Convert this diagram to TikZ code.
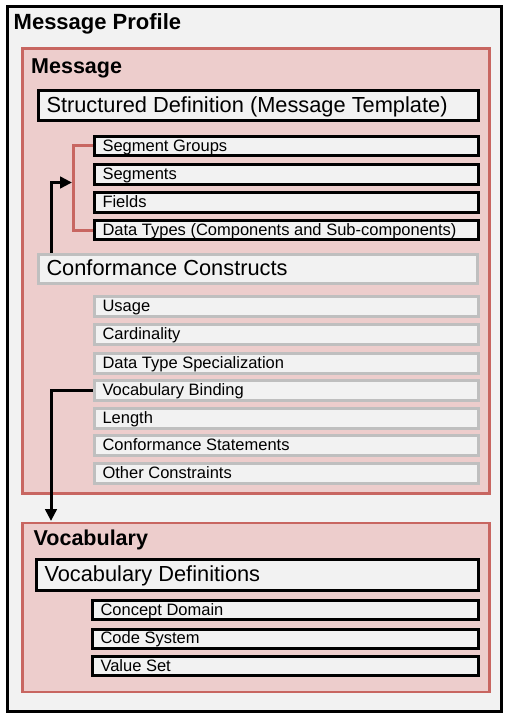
\documentclass[tikz,border=0pt]{standalone}
\usepackage{fontspec}
\setmainfont{Liberation Sans}
\usetikzlibrary{arrows.meta,calc}
\definecolor{bgray}{RGB}{242,242,242}
\definecolor{pinkfill}{RGB}{237,205,204}
\definecolor{redline}{RGB}{200,102,97}
\definecolor{cgray}{RGB}{191,191,191}
\newcommand{\lbox}[2]{\makebox[#1][l]{#2}}
\tikzset{
  bigtxt/.style={font=\fontsize{21.8}{24}\selectfont, text height=16.4pt, text depth=2.6pt},
  smalltxt/.style={font=\fontsize{16.5}{18}\selectfont, text height=12.4pt, text depth=2pt},
  boxbase/.style={line width=3pt, fill=bgray, inner xsep=8pt, inner ysep=0pt, anchor=west, outer sep=0pt},
  blackbox/.style={boxbase, draw=black},
  graybox/.style={boxbase, draw=cgray},
  title/.style={font=\fontsize{21.5}{24}\selectfont\bfseries, anchor=base west, inner sep=0pt},
  group/.style={draw=redline, line width=2.5pt, fill=pinkfill},
  bracketline/.style={draw=redline, line width=3pt},
  arr/.style={draw=black, line width=3pt, -{Triangle[length=12pt,width=11.5pt]}},
}
\begin{document}
\begin{tikzpicture}[x=1pt,y=-1pt]
\useasboundingbox (0,0) rectangle (509,719);
% outer frame
\draw[line width=3pt, fill=bgray] (7,7) rectangle (501,711);
\node[title, font=\fontsize{22}{24}\selectfont\bfseries] (mp) at (13.5,30) {Message Profile};
% message group
\draw[group] (22.5,48.5) rectangle (489.5,493.5);
\node[title] (msg) at (31,74) {Message};
\node[blackbox,bigtxt,minimum height=30.5pt] (sd) at (38.5,105.75) {\lbox{424pt}{Structured Definition (Message Template)}};
\node[blackbox,smalltxt,minimum height=19.5pt] (sg) at (94.5,146) {\lbox{368pt}{Segment Groups}};
\node[blackbox,smalltxt,minimum height=19.5pt] (seg) at (94.5,174.5) {\lbox{368pt}{Segments}};
\node[blackbox,smalltxt,minimum height=19.5pt] (fld) at (94.5,202.5) {\lbox{368pt}{Fields}};
\node[blackbox,smalltxt,minimum height=19.5pt] (dt) at (94.5,230) {\lbox{368pt}{Data Types (Components and Sub-components)}};
\draw[bracketline] ([xshift=-1.5pt]sg.west) -- (73.3,146) |- ([xshift=-1.5pt]dt.west);
\node[graybox,bigtxt,minimum height=29pt] (cc) at (38.5,269) {\lbox{423pt}{Conformance Constructs}};
\coordinate (tip1) at (72,182.5);
\draw[arr] ($(cc.north west)+(12.5,-1.5)$) |- (tip1);
\node[graybox,smalltxt,minimum height=20pt] (us) at (94.5,306) {\lbox{367.5pt}{Usage}};
\node[graybox,smalltxt,minimum height=20pt] (card) at (94.5,334.5) {\lbox{367.5pt}{Cardinality}};
\node[graybox,smalltxt,minimum height=20pt] (dts) at (94.5,363) {\lbox{367.5pt}{Data Type Specialization}};
\node[graybox,smalltxt,minimum height=20pt] (vb) at (94.5,390) {\lbox{367.5pt}{Vocabulary Binding}};
\node[graybox,smalltxt,minimum height=20pt] (len) at (94.5,418) {\lbox{367.5pt}{Length}};
\node[graybox,smalltxt,minimum height=20pt] (cs) at (94.5,445.5) {\lbox{367.5pt}{Conformance Statements}};
\node[graybox,smalltxt,minimum height=20pt] (oc) at (94.5,473.5) {\lbox{367.5pt}{Other Constraints}};
% vocabulary group
\draw[group] (22.5,523) rectangle (489.5,692);
\node[title] (voc) at (33.5,545) {Vocabulary};
\node[blackbox,bigtxt,minimum height=31.6pt] (vd) at (36.5,575) {\lbox{426pt}{Vocabulary Definitions}};
\node[blackbox,smalltxt,minimum height=19pt] (cd) at (92.5,610) {\lbox{370pt}{Concept Domain}};
\node[blackbox,smalltxt,minimum height=19pt] (csys) at (92.5,638.5) {\lbox{370pt}{Code System}};
\node[blackbox,smalltxt,minimum height=19pt] (vs) at (92.5,666) {\lbox{370pt}{Value Set}};
\coordinate (tip2) at (51,521);
\draw[arr] ([xshift=-1.5pt]vb.west) -| (tip2);
\end{tikzpicture}
\end{document}
